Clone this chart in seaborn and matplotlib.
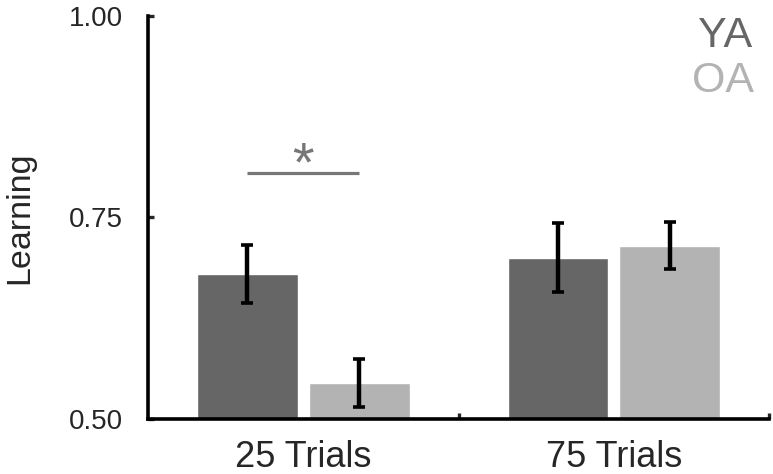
import matplotlib
matplotlib.use("Agg")
import matplotlib.pyplot as plt
import seaborn as sns
import pandas as pd
import numpy as np

conditions = ["25 Trials", "75 Trials"]
groups = ["YA", "OA"]
ya_means = [0.680, 0.700]
oa_means = [0.545, 0.715]
ya_se = [0.036, 0.043]
oa_se = [0.030, 0.029]
y_ticks = [0.50, 0.75, 1.00]
y_tick_labels = ["0.50", "0.75", "1.00"]
colors = {"YA": "#666666", "OA": "#b3b3b3"}

df = pd.DataFrame({
    "condition": conditions * 2,
    "group": ["YA"] * 2 + ["OA"] * 2,
    "learning": ya_means + oa_means,
    "se": ya_se + oa_se,
})

sns.set_style("white")
plt.rcParams["font.family"] = ["Liberation Sans", "DejaVu Sans"]

fig = plt.figure(figsize=(7.73, 4.74), dpi=100)
ax = fig.add_axes([0.1915, 0.116, 0.8035, 0.851])

sns.barplot(data=df, x="condition", y="learning", hue="group",
            order=conditions, hue_order=groups, palette=colors,
            errorbar=None, width=0.72, gap=0.1, saturation=1,
            legend=False, ax=ax)

# error bars from bar positions
for cont, g in zip(ax.containers, groups):
    sub = df[df["group"] == g].set_index("condition").loc[conditions]
    xs = [p.get_x() + p.get_width() / 2 for p in cont]
    ax.errorbar(xs, sub["learning"].values, yerr=sub["se"].values,
                fmt="none", ecolor="black", elinewidth=3.2,
                capsize=4.5, capthick=2.6, zorder=5)

# significance marker between 25-trial bars
c0 = [p.get_x() + p.get_width() / 2 for p in ax.containers[0]]
c1 = [p.get_x() + p.get_width() / 2 for p in ax.containers[1]]
ax.plot([c0[0], c1[0]], [0.8045, 0.8045], color="#777777", lw=2.3,
        solid_capstyle="butt")
ax.text((c0[0] + c1[0]) / 2, 0.7955, "*", ha="center", va="baseline",
        fontsize=40, color="#777777")

ax.set_xlim(-0.5, 1.5)
ax.set_ylim(0.5, 1.0)
ax.set_yticks(y_ticks)
ax.set_yticklabels(y_tick_labels)
ax.set_xlabel("")
ax.set_ylabel("Learning", fontsize=24.5, labelpad=24)

for s in ["top", "right"]:
    ax.spines[s].set_visible(False)
for s in ["left", "bottom"]:
    ax.spines[s].set_linewidth(2.6)
    ax.spines[s].set_color("black")
    ax.spines[s].set_capstyle("projecting")

ax.tick_params(axis="y", direction="in", length=4, width=2.4,
               labelsize=20, pad=18, left=True)
ax.tick_params(axis="x", which="major", length=0, labelsize=26, pad=15)
ax.set_xticks([0.5, 1.5], minor=True)
ax.tick_params(axis="x", which="minor", direction="in", length=4,
               width=2.4, bottom=True)

ax.text(0.973, 0.949, "YA", transform=ax.transAxes, ha="right",
        va="center", fontsize=31, color=colors["YA"])
ax.text(0.975, 0.838, "OA", transform=ax.transAxes, ha="right",
        va="center", fontsize=31, color=colors["OA"])

fig.savefig("out.png", dpi=100)
